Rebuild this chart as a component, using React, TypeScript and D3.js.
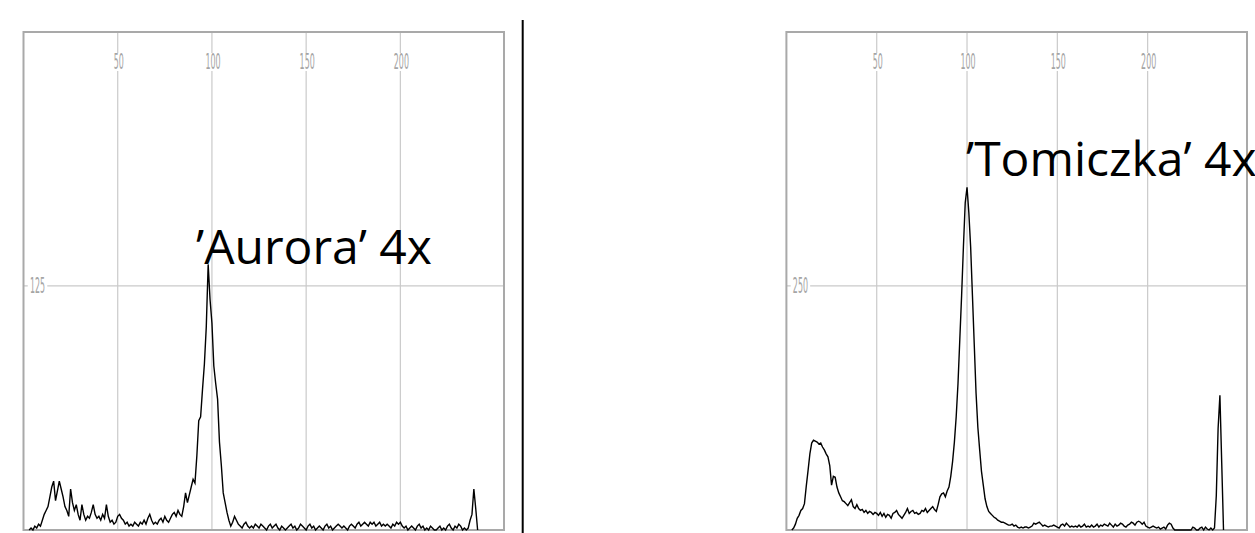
import * as d3 from "d3";
import { useEffect, useRef } from "react";

// fluorescence channel 0..255, counts
const auroraCounts = [
  0, 0, 0, 0, 1, 0, 2, 1, 3, 2, 5, 8, 10, 12, 17, 22,
  25, 15, 20, 25, 21, 17, 12, 10, 7, 21, 14, 10, 13, 8, 5, 13,
  8, 5, 7, 6, 9, 13, 8, 6, 7, 5, 8, 6, 13, 7, 4, 5,
  3, 4, 7, 8, 6, 5, 3, 4, 2, 3, 2, 4, 3, 2, 4, 3,
  5, 3, 6, 8, 5, 3, 4, 3, 5, 6, 4, 7, 5, 4, 6, 8,
  9, 7, 10, 8, 7, 12, 19, 14, 18, 22, 26, 24, 38, 56, 58, 72,
  85, 104, 136, 118, 106, 84, 75, 67, 45, 33, 19, 14, 9, 5, 2, 4,
  7, 5, 3, 2, 1, 3, 4, 2, 1, 2, 1, 3, 2, 1, 3, 2,
  1, 0, 2, 3, 1, 2, 3, 1, 0, 2, 1, 0, 1, 2, 3, 1,
  2, 0, 1, 3, 2, 1, 0, 2, 3, 1, 2, 0, 1, 2, 1, 0,
  2, 3, 1, 2, 0, 1, 2, 3, 2, 1, 2, 1, 0, 2, 3, 2,
  1, 3, 4, 2, 3, 4, 3, 2, 4, 3, 4, 2, 3, 4, 2, 3,
  2, 3, 2, 1, 3, 2, 4, 3, 4, 2, 1, 2, 0, 1, 2, 1,
  0, 2, 3, 1, 2, 0, 1, 0, 2, 1, 0, 0, 1, 2, 0, 1,
  0, 2, 3, 1, 0, 2, 1, 3, 2, 0, 1, 0, 1, 5, 8, 21,
  11, 0, 0, 0, 0, 0, 0, 0, 0, 0, 0, 0, 0, 0, 0, 0,
];

const tomiczkaCounts = [
  0, 0, 0, 0, 2, 6, 12, 15, 20, 22, 27, 45, 61, 78, 89, 92,
  91, 90, 88, 89, 85, 82, 78, 75, 66, 46, 55, 54, 44, 38, 34, 30,
  29, 27, 25, 28, 31, 24, 22, 26, 22, 20, 21, 18, 20, 17, 19, 18,
  16, 18, 17, 15, 18, 14, 17, 13, 16, 15, 12, 17, 18, 20, 16, 14,
  12, 15, 18, 22, 17, 19, 20, 17, 18, 16, 17, 20, 19, 22, 18, 20,
  22, 24, 21, 19, 26, 34, 37, 38, 34, 40, 44, 55, 70, 90, 116, 150,
  195, 240, 290, 335, 351, 325, 290, 240, 190, 140, 105, 82, 60, 46, 32, 24,
  19, 17, 15, 13, 12, 10, 9, 8, 8, 7, 6, 5, 5, 6, 4, 5,
  3, 2, 3, 2, 3, 3, 2, 3, 4, 7, 6, 7, 8, 6, 4, 5,
  4, 3, 4, 4, 5, 4, 3, 2, 5, 6, 4, 7, 5, 3, 4, 3,
  4, 3, 5, 3, 4, 6, 3, 4, 3, 5, 3, 4, 6, 3, 5, 4,
  6, 5, 4, 7, 5, 3, 6, 4, 5, 7, 6, 4, 3, 5, 6, 8,
  7, 5, 8, 9, 8, 6, 8, 4, 3, 2, 3, 4, 3, 2, 3, 1,
  2, 3, 1, 5, 7, 6, 2, 0, 0, 0, 0, 0, 0, 0, 0, 0,
  0, 3, 2, 0, 0, 2, 3, 0, 3, 1, 0, 2, 0, 2, 35, 104,
  138, 69, 0, 0, 0, 0, 0, 0, 0, 0, 0, 0, 0, 0, 0, 0,
];

const xTicks = [50, 100, 150, 200];
const auroraYTicks = [125];
const tomiczkaYTicks = [250];

const W = 1255, H = 533;

// keep only the drawn stretch of a histogram (one zero on each side)
function trimmed(counts) {
  const pts = counts.map((c, i) => ({ ch: i, n: c }));
  let a = pts.findIndex(p => p.n > 0);
  let b = pts.length - 1;
  while (b > 0 && pts[b].n === 0) b--;
  return pts.slice(Math.max(0, a - 1), Math.min(pts.length, b + 2));
}

function drawPanel(svg, opt) {
  const x = d3.scaleLinear().domain([0, 255]).range([opt.left, opt.right]);
  const y = d3.scaleLinear().domain([0, opt.yMax]).range([opt.bottom, opt.top]);
  const g = svg.append("g");

  g.append("rect")
    .attr("x", opt.left).attr("y", opt.top)
    .attr("width", opt.right - opt.left).attr("height", opt.bottom - opt.top)
    .attr("fill", "#fff");

  // grid
  g.selectAll(".vgrid").data(xTicks).join("line")
    .attr("x1", d => x(d)).attr("x2", d => x(d))
    .attr("y1", opt.top).attr("y2", opt.bottom)
    .attr("stroke", "#cacaca").attr("stroke-width", 1.2);
  g.selectAll(".hgrid").data(opt.yTicks).join("line")
    .attr("x1", opt.left).attr("x2", opt.right)
    .attr("y1", d => y(d)).attr("y2", d => y(d))
    .attr("stroke", "#cacaca").attr("stroke-width", 1.2);

  // condensed tick labels
  const label = (px, py, txt) => {
    const w = txt.length * 5.5 + 3;
    g.append("rect")
      .attr("x", px - w / 2).attr("y", py - 9)
      .attr("width", w).attr("height", 18)
      .attr("fill", "#fff");
    g.append("text")
      .attr("transform", `translate(${px},${py}) scale(0.36,1)`)
      .attr("text-anchor", "middle")
      .attr("dominant-baseline", "central")
      .attr("font-family", "DejaVu Sans")
      .attr("font-size", 22)
      .attr("fill", "#a5a5a5")
      .text(txt);
  };
  xTicks.forEach(t => label(x(t) + 1, 62, String(t)));
  opt.yTicks.forEach(t => label(opt.left + 14, y(t), String(t)));

  g.append("rect")
    .attr("x", opt.left).attr("y", opt.top)
    .attr("width", opt.right - opt.left).attr("height", opt.bottom - opt.top)
    .attr("fill", "none")
    .attr("stroke", "#a9a9a9").attr("stroke-width", 2);

  g.append("path")
    .datum(trimmed(opt.counts))
    .attr("fill", "none")
    .attr("stroke", "#000")
    .attr("stroke-width", 1.4)
    .attr("d", d3.line().x(d => x(d.ch)).y(d => y(d.n)));

  g.append("text")
    .attr("x", opt.labelX).attr("y", opt.labelY)
    .attr("font-family", "Open Sans")
    .attr("font-size", 48)
    .attr("fill", "#000")
    .text(opt.name);
}

export default function App() {
  const ref = useRef(null);

  useEffect(() => {
    const svg = d3.select(ref.current);
    svg.selectAll("*").remove();

    svg.append("rect").attr("width", W).attr("height", H).attr("fill", "#fff");

    drawPanel(svg, {
      left: 23.5, right: 504, top: 32, bottom: 530,
      yMax: 255, yTicks: auroraYTicks, counts: auroraCounts,
      name: "\u2019Aurora\u2019 4x", labelX: 196, labelY: 264,
    });
    drawPanel(svg, {
      left: 786.4, right: 1247, top: 32, bottom: 530,
      yMax: 510, yTicks: tomiczkaYTicks, counts: tomiczkaCounts,
      name: "\u2019Tomiczka\u2019 4x", labelX: 966, labelY: 176,
    });

    // divider between the two panels
    svg.append("line")
      .attr("x1", 522.7).attr("x2", 522.7)
      .attr("y1", 20).attr("y2", H)
      .attr("stroke", "#000").attr("stroke-width", 2);
  }, []);

  return (
    <svg
      ref={ref}
      width={W}
      height={H}
      style={{ position: "absolute", left: 0, top: 0, display: "block" }}
    />
  );
}
